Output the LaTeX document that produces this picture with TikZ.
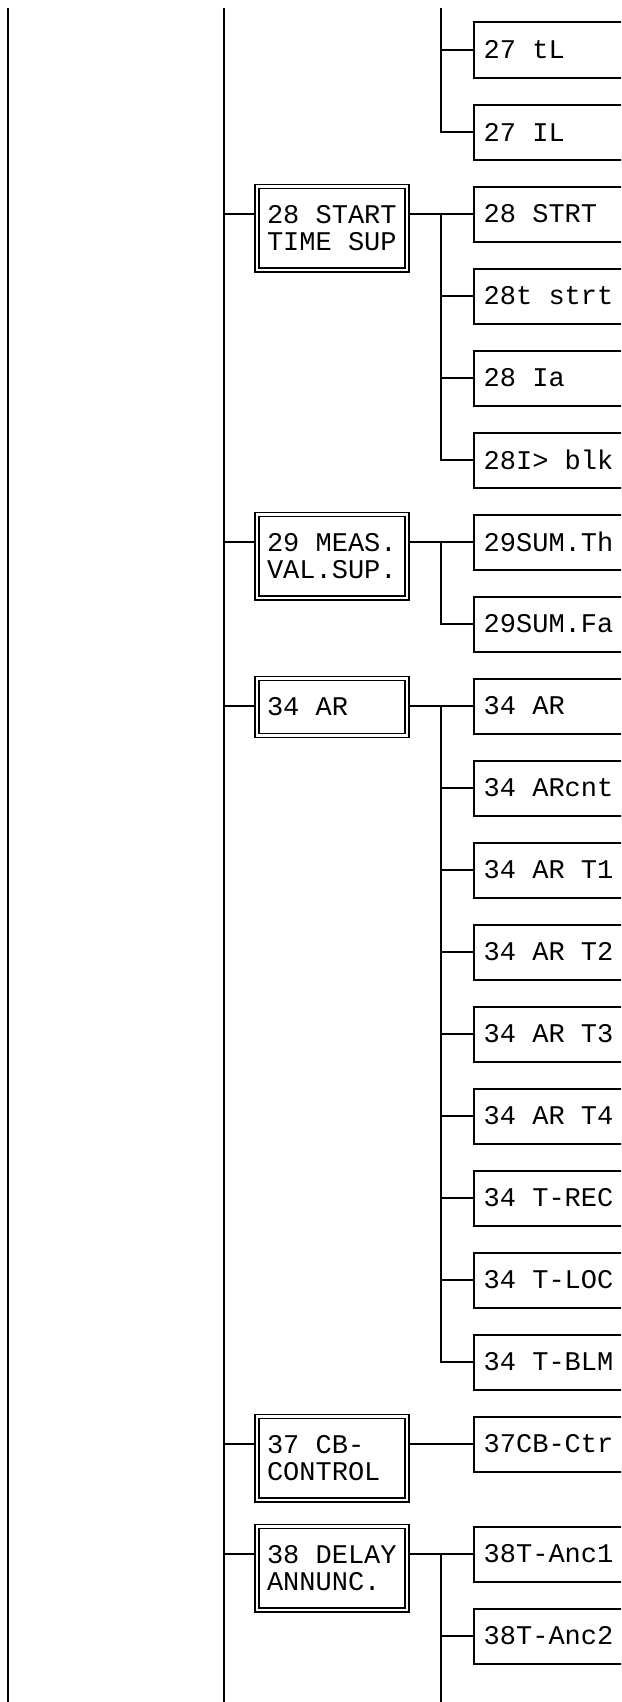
\documentclass[tikz,border=0pt]{standalone}
\usepackage{fontspec}
\setmonofont{Liberation Mono}
\usetikzlibrary{calc}
\newcommand{\menufont}{\ttfamily\fontsize{27}{27.5}\selectfont\spaceskip 0pt\xspaceskip 0pt\relax}
\tikzset{
  every picture/.style={x=1pt, y=-1pt, line width=2pt},
  menu/.style={draw, double, double distance=2.5pt, line width=1.5pt, outer sep=2.75pt, font={\menufont},
    text width=130pt, inner xsep=10pt, inner ysep=0pt, align=flush left, anchor=north, minimum height=#1},
  menu/.default=57pt,
  item/.style={draw, line width=2pt, text width=200pt, inner xsep=10pt, inner ysep=0pt, font={\menufont},
    minimum height=55pt, align=flush left, anchor=west},
}
\newcommand{\leaf}[3]{% #1 name, #2 row, #3 label
  \node[item] (#1) at (472.7,#2) {#3};
  \draw (#1.west) -- (#1.west -| spine);}
\newcommand{\funcbox}[4]{% #1 name, #2 row, #3 height, #4 label
  \node[menu=#3] (#1) at (332,#2-30.25) {#4};}

\begin{document}
\begin{tikzpicture}
  \path[use as bounding box, clip] (0,0) rectangle (621,1702);
  \coordinate (outer top) at (7.5,8);
  \coordinate (outer bot) at (7.5,1702);
  \coordinate (trunk top) at (223.5,8);
  \coordinate (trunk bot) at (223.5,1702);
  \coordinate (spine) at (440.5,8);
  \coordinate (spine bot) at (440.5,1702);
  \draw (outer top) -- (outer bot);
  \draw (trunk top) -- (trunk bot);
  % 27
  \leaf{l27a}{50}{27 tL}
  \leaf{l27b}{132}{27 IL}
  \draw (spine) |- (l27b.west);
  % 28
  \funcbox{f28}{214}{83.5pt}{28 START\\TIME SUP}
  \leaf{l28a}{214}{28 STRT}
  \leaf{l28b}{296}{28t strt}
  \leaf{l28c}{378}{28 Ia}
  \leaf{l28d}{460}{28I> blk}
  \draw (l28a.west -| spine) |- (l28d.west);
  \draw (l28a.west -| trunk top) -- (f28.west |- l28a.west);
  \draw (f28.east |- l28a.west) -- (l28a.west);
  % 29
  \funcbox{f29}{542}{83.5pt}{29 MEAS.\\VAL.SUP.}
  \leaf{l29a}{542}{29SUM.Th}
  \leaf{l29b}{624}{29SUM.Fa}
  \draw (l29a.west -| spine) |- (l29b.west);
  \draw (l29a.west -| trunk top) -- (f29.west |- l29a.west);
  \draw (f29.east |- l29a.west) -- (l29a.west);
  % 34
  \funcbox{f34}{706}{57pt}{34 AR}
  \foreach \n/\txt [count=\k from 0] in {a/34 AR, b/34 ARcnt, c/34 AR T1, d/34 AR T2, e/34 AR T3,
      f/34 AR T4, g/34 T-REC, h/34 T-LOC, i/34 T-BLM}
    \leaf{l34\n}{706+82*\k}{\txt};
  \draw (l34a.west -| spine) |- (l34i.west);
  \draw (l34a.west -| trunk top) -- (f34.west |- l34a.west);
  \draw (f34.east |- l34a.west) -- (l34a.west);
  % 37
  \funcbox{f37}{1444}{83.5pt}{37 CB-\\CONTROL}
  \node[item] (l37) at (472.7,1444) {37CB-Ctr};
  \draw (l37.west -| trunk top) -- (f37.west |- l37.west);
  \draw (f37.east |- l37.west) -- (l37.west);
  % 38
  \funcbox{f38}{1554}{83.5pt}{38 DELAY\\ANNUNC.}
  \leaf{l38a}{1554}{38T-Anc1}
  \leaf{l38b}{1636}{38T-Anc2}
  \draw (l38a.west -| spine) -- (spine bot);
  \draw (l38a.west -| trunk top) -- (f38.west |- l38a.west);
  \draw (f38.east |- l38a.west) -- (l38a.west);
\end{tikzpicture}
\end{document}
